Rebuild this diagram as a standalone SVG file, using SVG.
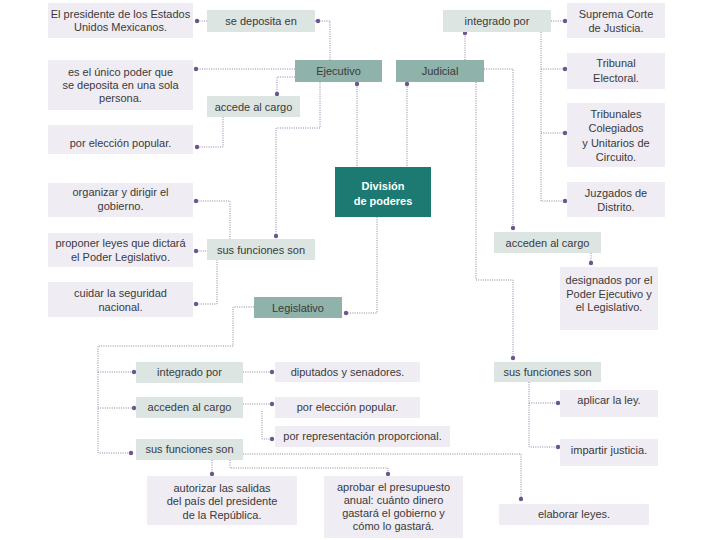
<svg xmlns="http://www.w3.org/2000/svg" width="720" height="540" viewBox="0 0 720 540">
<defs>
<style>
.leaf{fill:#efecf4}
.lbl{fill:#dce5e2}
.br{fill:#8fb2ab}
.root{fill:#1c7a72}
text{font-family:"Liberation Sans",Arial,sans-serif;font-size:11px;fill:#3a3a3a;text-anchor:middle}
.rt{fill:#ffffff;font-weight:bold}
.c path{fill:none;stroke:#8e7fa3;stroke-width:1;stroke-dasharray:1 1.3}
.c circle{fill:#6d5590}
</style>
</defs>
<rect width="720" height="540" fill="#ffffff"/>

<g class="c" id="connectors">
<path d="M197,21 H207"/><circle cx="197" cy="21" r="2.2"/>
<path d="M315,21 H330 V60"/><circle cx="318" cy="21" r="2.2"/>
<path d="M295,69 H196"/><circle cx="196" cy="69" r="2.2"/>
<path d="M295,77 H277 V94"/><circle cx="277" cy="94" r="2.2"/>
<path d="M197,147 H223 V117"/><circle cx="197" cy="147" r="2.2"/>
<path d="M320,82 V128 H276 V236"/><circle cx="276" cy="236" r="2.2"/>
<path d="M357,82 V167"/><circle cx="357" cy="84" r="2.2"/>
<path d="M196,201 H230 V239"/><circle cx="196" cy="201" r="2.2"/>
<path d="M196,251 H207"/><circle cx="196" cy="251" r="2.2"/>
<path d="M196,304 H217 V260"/><circle cx="196" cy="304" r="2.2"/>
<path d="M377,217 V313 H346"/><circle cx="346" cy="313" r="2.2"/>
<path d="M254,307 H233 V346 H98 V453 H131"/><circle cx="131" cy="453" r="2.2"/>
<path d="M98,372 H134"/><circle cx="134" cy="372" r="2.2"/>
<path d="M98,408 H134"/><circle cx="134" cy="408" r="2.2"/>
<path d="M407,82 V167"/><circle cx="407" cy="84" r="2.2"/>
<path d="M465,60 V33"/><circle cx="465" cy="33" r="2.2"/>
<path d="M551,21 H565"/><circle cx="565" cy="21" r="2.2"/>
<path d="M541,32 V201 H565"/><circle cx="565" cy="201" r="2.2"/>
<path d="M541,69 H565"/><circle cx="565" cy="69" r="2.2"/>
<path d="M541,133 H565"/><circle cx="565" cy="133" r="2.2"/>
<path d="M484,69 H513 V228"/><circle cx="513" cy="228" r="2.2"/>
<path d="M591,253 V263"/><circle cx="591" cy="263" r="2.2"/>
<path d="M476,82 V280 H513 V358"/><circle cx="513" cy="358" r="2.2"/>
<path d="M529,382 V447 H558"/><circle cx="558" cy="447" r="2.2"/>
<path d="M529,403 H558"/><circle cx="558" cy="403" r="2.2"/>
<path d="M243,372 H272"/><circle cx="272" cy="372" r="2.2"/>
<path d="M243,404 H272"/><circle cx="272" cy="404" r="2.2"/>
<path d="M262,411 V439 H272"/><circle cx="272" cy="439" r="2.2"/>
<path d="M243,454 H521 V499"/><circle cx="521" cy="499" r="2.2"/>
<path d="M212,460 V474"/><circle cx="212" cy="474" r="2.2"/>
<path d="M230,460 V468 H388 V474"/><circle cx="388" cy="474" r="2.2"/>
</g>

<g id="n-presidente"><rect class="leaf" x="48" y="3" width="145" height="35"/><text x="120.5" y="17.5">El presidente de los Estados</text><text x="120.5" y="31">Unidos Mexicanos.</text></g>
<g id="n-se-deposita"><rect class="lbl" x="207" y="10" width="108" height="22"/><text x="261" y="25">se deposita en</text></g>
<g id="n-ejecutivo"><rect class="br" x="295" y="60" width="87" height="22"/><text x="338.5" y="75">Ejecutivo</text></g>
<g id="n-unico"><rect class="leaf" x="48" y="60" width="145" height="50"/><text x="120.5" y="76">es el único poder que</text><text x="120.5" y="89">se deposita en una sola</text><text x="120.5" y="102">persona.</text></g>
<g id="n-accede-e"><rect class="lbl" x="207" y="96" width="93" height="21"/><text x="253.5" y="110.5">accede al cargo</text></g>
<g id="n-eleccion-e"><rect class="leaf" x="48" y="125" width="145" height="29"/><text x="120.5" y="147">por elección popular.</text></g>
<g id="n-organizar"><rect class="leaf" x="48" y="183" width="145" height="34"/><text x="120.5" y="196">organizar y dirigir el</text><text x="120.5" y="210">gobierno.</text></g>
<g id="n-funciones-e"><rect class="lbl" x="207" y="239" width="108" height="21"/><text x="261" y="253.5">sus funciones son</text></g>
<g id="n-proponer"><rect class="leaf" x="48" y="233" width="145" height="34"/><text x="120.5" y="247">proponer leyes que dictará</text><text x="120.5" y="261">el Poder Legislativo.</text></g>
<g id="n-cuidar"><rect class="leaf" x="48" y="282" width="145" height="35"/><text x="120.5" y="297">cuidar la seguridad</text><text x="120.5" y="311">nacional.</text></g>
<g id="n-division"><rect class="root" x="335" y="167" width="96" height="50"/><text class="rt" x="383" y="190">División</text><text class="rt" x="383" y="205">de poderes</text></g>
<g id="n-legislativo"><rect class="br" x="254" y="297" width="88" height="21"/><text x="298" y="311.5">Legislativo</text></g>
<g id="n-judicial"><rect class="br" x="396" y="60" width="88" height="22"/><text x="440" y="75">Judicial</text></g>
<g id="n-integrado-j"><rect class="lbl" x="443" y="10" width="108" height="22"/><text x="497" y="25">integrado por</text></g>
<g id="n-suprema"><rect class="leaf" x="567" y="3" width="98" height="35"/><text x="616" y="18">Suprema Corte</text><text x="616" y="32">de Justicia.</text></g>
<g id="n-electoral"><rect class="leaf" x="567" y="53" width="98" height="36"/><text x="616" y="67">Tribunal</text><text x="616" y="82">Electoral.</text></g>
<g id="n-tribunales"><rect class="leaf" x="567" y="103" width="98" height="64"/><text x="616" y="118">Tribunales</text><text x="616" y="132">Colegiados</text><text x="616" y="147">y Unitarios de</text><text x="616" y="161">Circuito.</text></g>
<g id="n-juzgados"><rect class="leaf" x="567" y="182" width="98" height="35"/><text x="616" y="197">Juzgados de</text><text x="616" y="211">Distrito.</text></g>
<g id="n-acceden-j"><rect class="lbl" x="494" y="232" width="107" height="21"/><text x="547.5" y="246.5">acceden al cargo</text></g>
<g id="n-designados"><rect class="leaf" x="560" y="267" width="98" height="63"/><text x="609" y="284">designados por el</text><text x="609" y="297.5">Poder Ejecutivo y</text><text x="609" y="311">el Legislativo.</text></g>
<g id="n-funciones-j"><rect class="lbl" x="494" y="362" width="107" height="20"/><text x="547.5" y="376">sus funciones son</text></g>
<g id="n-aplicar"><rect class="leaf" x="560" y="390" width="98" height="27"/><text x="609" y="404">aplicar la ley.</text></g>
<g id="n-impartir"><rect class="leaf" x="560" y="439" width="98" height="27"/><text x="609" y="454">impartir justicia.</text></g>
<g id="n-integrado-l"><rect class="lbl" x="136" y="362" width="107" height="21"/><text x="189.5" y="376">integrado por</text></g>
<g id="n-diputados"><rect class="leaf" x="275" y="362" width="145" height="20"/><text x="347.5" y="376">diputados y senadores.</text></g>
<g id="n-acceden-l"><rect class="lbl" x="136" y="397" width="107" height="21"/><text x="189.5" y="411">acceden al cargo</text></g>
<g id="n-eleccion-l"><rect class="leaf" x="275" y="397" width="145" height="21"/><text x="347.5" y="411">por elección popular.</text></g>
<g id="n-representacion"><rect class="leaf" x="275" y="426" width="175" height="21"/><text x="362.5" y="440">por representación proporcional.</text></g>
<g id="n-funciones-l"><rect class="lbl" x="136" y="439" width="107" height="21"/><text x="189.5" y="453">sus funciones son</text></g>
<g id="n-autorizar"><rect class="leaf" x="147" y="476" width="150" height="49"/><text x="222" y="492">autorizar las salidas</text><text x="222" y="505">del país del presidente</text><text x="222" y="519">de la República.</text></g>
<g id="n-aprobar"><rect class="leaf" x="324" y="476" width="139" height="62"/><text x="393.5" y="491">aprobar el presupuesto</text><text x="393.5" y="504">anual: cuánto dinero</text><text x="393.5" y="517">gastará el gobierno y</text><text x="393.5" y="530">cómo lo gastará.</text></g>
<g id="n-elaborar"><rect class="leaf" x="499" y="504" width="150" height="21"/><text x="574" y="518">elaborar leyes.</text></g>
</svg>
